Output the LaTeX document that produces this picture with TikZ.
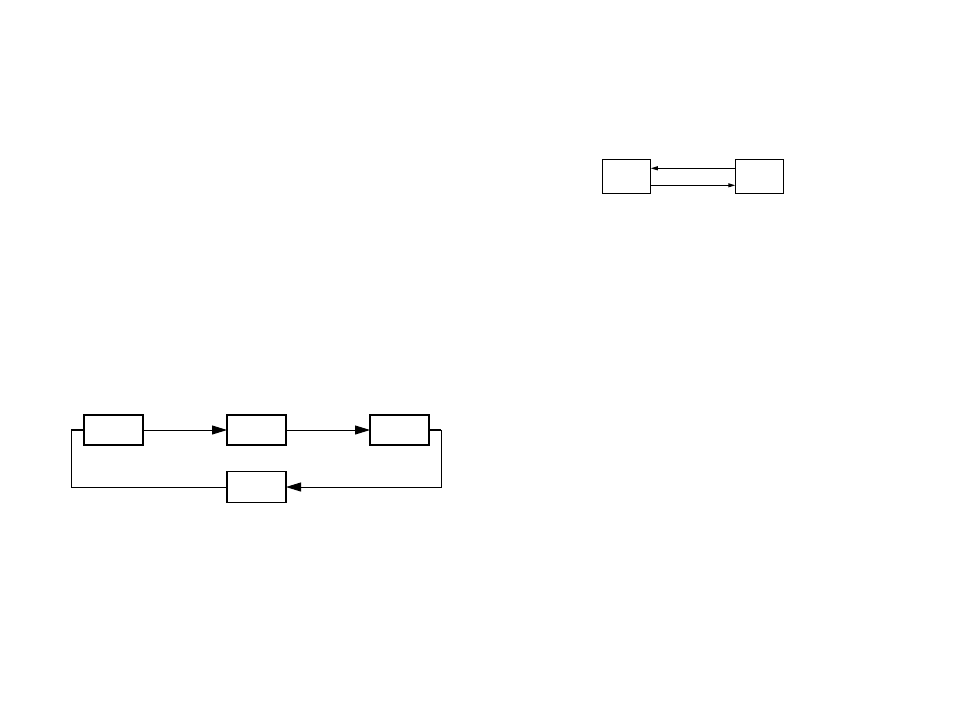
\documentclass[tikz,border=0pt]{standalone}
\usetikzlibrary{arrows.meta}
\begin{document}
\begin{tikzpicture}[x=1pt,y=-1pt,
  box/.style={draw,line width=1.2pt,inner sep=0pt,outer sep=0pt,minimum width=59pt,minimum height=30pt},
  sbox/.style={draw,line width=1pt,inner sep=0pt,outer sep=0pt,minimum width=48.5pt,minimum height=34pt},
  heavy/.style={line width=2.2pt},
  wire/.style={line width=1pt},
  bigarrow/.style={wire,-{Triangle[length=15pt,width=9pt]}},
  smallarrow/.style={wire,-{Triangle[length=7pt,width=4pt]}}]
\useasboundingbox (0,0) rectangle (954,716);
% bottom diagram
\node[box] (A) at (113.5,430) {};
\node[box] (B) at (256.5,430) {};
\node[box] (C) at (399.5,430) {};
\node[box,minimum height=31pt] (D) at (256.5,487) {};
\draw[heavy] (A.south west) -- (A.south east) -- (A.north east);
\draw[heavy] (B.south west) -- (B.south east);
\draw[heavy] (C.north west) -- (C.south west) -- (C.south east) -- (C.north east);
\coordinate (kA) at (71,430);
\coordinate (kC) at (441,430);
\draw[bigarrow] (A.east) -- (B.west);
\draw[bigarrow] (B.east) -- (C.west);
\draw[heavy] (kA) -- (A.west);
\draw[heavy] (C.east) -- (kC);
\draw[wire] (D.west) -| (kA);
\draw[bigarrow] (kC) |- (D.east);
% top diagram
\node[sbox] (E) at (626.5,176.3) {};
\node[sbox] (F) at (759.5,176.3) {};
\draw[smallarrow] ([yshift=8pt]F.west) -- ([yshift=8pt]E.east);
\draw[smallarrow] ([yshift=-9pt]E.east) -- ([yshift=-9pt]F.west);
\end{tikzpicture}
\end{document}
